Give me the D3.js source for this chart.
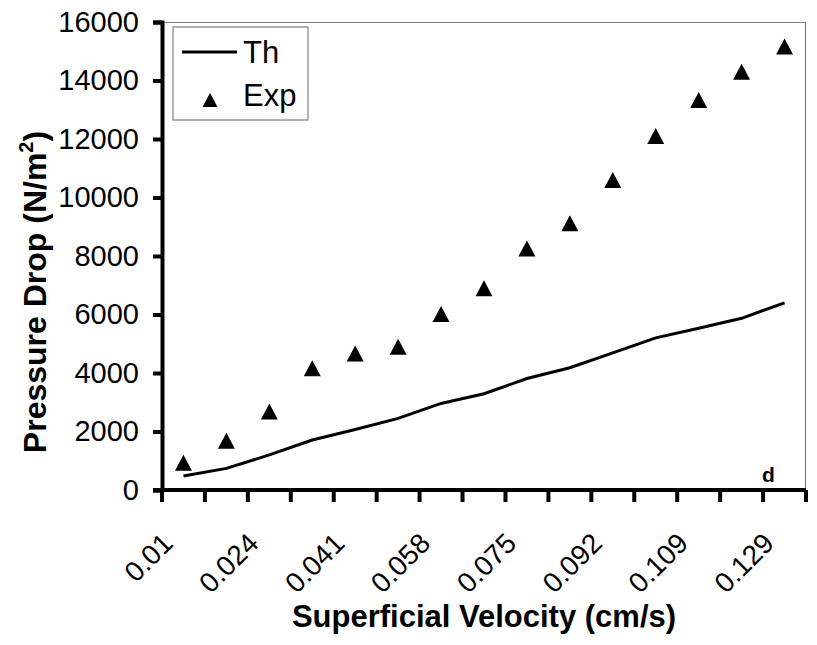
<!DOCTYPE html>
<html>
<head>
<meta charset="utf-8">
<script src="https://cdn.jsdelivr.net/npm/d3@7"></script>
<style>
  body { margin: 0; background: #fff; }
  text { font-family: Arial, "Liberation Sans", sans-serif; }
</style>
</head>
<body>
<div id="chart"></div>
<script>
// data
var velocities = ["0.01", "0.017", "0.024", "0.032", "0.041", "0.049", "0.058", "0.066",
                  "0.075", "0.083", "0.092", "0.1", "0.109", "0.119", "0.129"];
var shownLabels = ["0.01", "0.024", "0.041", "0.058", "0.075", "0.092", "0.109", "0.129"];
var thValues = [480, 740, 1200, 1710, 2070, 2450, 2960, 3290, 3810, 4180, 4690, 5200, 5530, 5870, 6400];
var expValues = [930, 1680, 2680, 4160, 4670, 4900, 6020, 6900, 8260, 9120, 10600, 12100, 13330, 14300, 15160];
var yTicks = [0, 2000, 4000, 6000, 8000, 10000, 12000, 14000, 16000];

var margin = {top: 22, right: 11, bottom: 155, left: 162},
    outerWidth = 817,
    outerHeight = 645,
    width = outerWidth - margin.left - margin.right,
    height = outerHeight - margin.top - margin.bottom;

var svg = d3.select("#chart").append("svg")
    .attr("width", outerWidth)
    .attr("height", outerHeight)
    .append("g")
    .attr("transform", "translate(" + margin.left + "," + margin.top + ")");

var x = d3.scaleBand().domain(velocities).range([0, width]);
var y = d3.scaleLinear().domain([0, 16000]).range([height, 0]);

// triangle marker, a bit taller than equilateral
function triangle(w, h) {
  return "M0," + (-h / 2) + "L" + (w / 2) + "," + (h / 2) + "L" + (-w / 2) + "," + (h / 2) + "Z";
}

// plot area border (top and right)
svg.append("path")
    .attr("d", "M0,0.5H" + (width - 0.5) + "V" + height)
    .attr("fill", "none")
    .attr("stroke", "#808080")
    .attr("stroke-width", 1.2);

// y axis
var yAxis = svg.append("g")
    .call(d3.axisLeft(y).tickValues(yTicks).tickSize(9).tickPadding(14).tickFormat(d3.format("d")));
yAxis.select(".domain").attr("stroke-width", 4);
yAxis.selectAll(".tick line").attr("stroke-width", 4);
yAxis.selectAll("text").attr("font-size", 29).attr("fill", "#000")
    .attr("font-family", "Arial, 'Liberation Sans', sans-serif");

// x axis, ticks at the band edges
var xAxis = svg.append("g").attr("transform", "translate(0," + height + ")");
xAxis.append("line")
    .attr("x1", -9).attr("x2", width)
    .attr("stroke", "#000").attr("stroke-width", 4);
xAxis.selectAll(".xtick")
    .data(velocities.concat(["end"]))
    .enter().append("line")
    .attr("x1", function(d, i) { return i * x.step(); })
    .attr("x2", function(d, i) { return i * x.step(); })
    .attr("y1", 0).attr("y2", 12)
    .attr("stroke", "#000").attr("stroke-width", 4);
xAxis.selectAll(".xlabel")
    .data(shownLabels)
    .enter().append("text")
    .attr("transform", function(d) {
      return "translate(" + (x(d) + x.bandwidth() / 2 - 9) + ",55) rotate(-45)";
    })
    .attr("text-anchor", "end")
    .attr("font-size", 28)
    .text(function(d) { return d; });

// theoretical line
var line = d3.line()
    .x(function(d, i) { return x(velocities[i]) + x.bandwidth() / 2; })
    .y(function(d) { return y(d); });
svg.append("path")
    .datum(thValues)
    .attr("d", line)
    .attr("fill", "none")
    .attr("stroke", "#000")
    .attr("stroke-width", 3);

// experimental triangles
svg.selectAll(".exp")
    .data(expValues)
    .enter().append("path")
    .attr("d", triangle(17, 16))
    .attr("transform", function(d, i) {
      return "translate(" + (x(velocities[i]) + x.bandwidth() / 2) + "," + y(d) + ")";
    })
    .attr("fill", "#000");

// legend
var legend = svg.append("g").attr("transform", "translate(11,5)");
legend.append("rect")
    .attr("width", 135).attr("height", 93)
    .attr("fill", "#fff").attr("stroke", "#808080").attr("stroke-width", 1.2);
legend.append("line")
    .attr("x1", 9).attr("x2", 64).attr("y1", 25).attr("y2", 25)
    .attr("stroke", "#000").attr("stroke-width", 3);
legend.append("text").attr("x", 70).attr("y", 36).attr("font-size", 31).text("Th");
legend.append("path").attr("d", triangle(15, 14)).attr("transform", "translate(37,73)").attr("fill", "#000");
legend.append("text").attr("x", 70).attr("y", 79).attr("font-size", 31).text("Exp");

// panel letter
svg.append("text")
    .attr("x", width - 44).attr("y", height - 8)
    .attr("font-size", 21).attr("font-weight", "bold")
    .text("d");

// axis titles
svg.append("text")
    .attr("x", width / 2).attr("y", height + 137)
    .attr("text-anchor", "middle")
    .attr("font-size", 31).attr("font-weight", "bold")
    .text("Superficial Velocity (cm/s)");

var yTitle = svg.append("text")
    .attr("transform", "translate(-116,270) rotate(-90)")
    .attr("text-anchor", "middle")
    .attr("font-size", 32).attr("font-weight", "bold");
yTitle.append("tspan").text("Pressure Drop (N/m");
yTitle.append("tspan").attr("font-size", 20).attr("dy", -13).text("2");
yTitle.append("tspan").attr("dy", 13).text(")");
</script>
</body>
</html>
